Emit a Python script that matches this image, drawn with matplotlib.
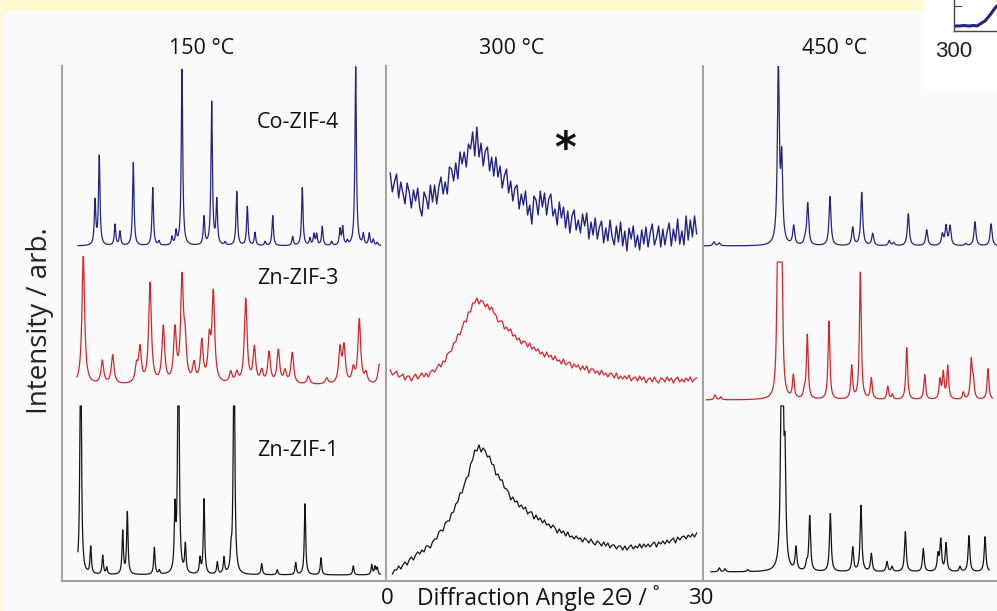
import numpy as np
import matplotlib
matplotlib.use("Agg")
import matplotlib.pyplot as plt
from matplotlib.patches import Rectangle

# ---------------- data ----------------
# 150 C panel: peak positions (2theta, deg) and peak heights (arb.)
co150_pos = [3.06, 3.45, 4.91, 5.37, 6.60, 8.40, 8.98, 10.19, 10.56, 11.11, 13.15, 13.86, 14.33,
             15.09, 16.18, 17.16, 17.87, 18.80, 19.51, 21.36, 22.25, 22.96, 23.33, 23.58, 24.10,
             24.97, 25.74, 25.99, 26.42, 27.19, 27.90, 28.45, 28.82, 29.19]
co150_hts = [44, 89, 21, 14, 83, 58, 4, 8, 13, 176, 28, 143, 44,
             3, 54, 39, 13, 4, 30, 9, 58, 7, 11, 11, 19,
             4, 16, 18, 4, 179, 11, 12, 6, 3]
zn3_150_pos = [1.97, 3.73, 4.69, 6.90, 7.22, 8.15, 9.38, 10.46, 11.11, 11.39, 12.22, 12.94, 13.64,
               14.01, 15.62, 16.18, 17.01, 17.81, 18.49, 19.17, 20.03, 20.65, 21.32, 22.81, 24.51,
               25.74, 26.11, 26.97, 27.53, 28.15, 29.38]
zn3_150_hts = [128, 23, 29, 16, 34, 100, 56, 52, 100, 36, 18, 41, 40,
               88, 11, 10, 84, 35, 12, 31, 33, 12, 31, 8, 6,
               34, 36, 14, 64, 10, 20]
zn1_150_pos = [1.73, 2.66, 3.77, 4.14, 5.62, 6.05, 8.55, 9.01, 10.46, 10.78, 11.42, 12.78,
               13.15, 14.38, 15.00, 15.65, 15.93, 18.49, 19.93, 21.64, 22.50, 23.98, 26.97, 28.68,
               28.98, 29.19]
zn1_150_hts = [280, 27, 19, 7, 43, 62, 27, 4, 60, 300, 28, 15,
               75, 12, 16, 17, 280, 11, 5, 12, 71, 17, 9, 10,
               8, 7]

# 300 C panel: amorphous patterns sampled every 0.2 deg 2theta
co300_start, co300_step = 0.4, 0.2
co300_int = [407, 388, 398, 406, 382, 398, 387, 376, 397, 388,
             372, 390, 379, 392, 372, 364, 388, 382, 371, 395,
             378, 395, 376, 393, 403, 386, 398, 386, 413, 411,
             399, 417, 401, 428, 416, 428, 413, 436, 431, 448,
             424, 453, 423, 437, 414, 429, 433, 409, 423, 404,
             423, 403, 414, 392, 404, 411, 387, 399, 379, 392,
             395, 371, 386, 375, 389, 365, 375, 356, 384, 380,
             365, 389, 373, 387, 365, 381, 386, 364, 371, 355,
             378, 362, 373, 352, 369, 347, 364, 370, 350, 360,
             347, 366, 354, 367, 341, 358, 345, 362, 341, 353,
             359, 337, 352, 339, 360, 343, 335, 354, 338, 358,
             334, 349, 329, 352, 341, 354, 333, 345, 330, 350,
             336, 353, 333, 347, 356, 335, 342, 354, 333, 351,
             335, 348, 357, 334, 351, 339, 361, 336, 349, 335,
             364, 340, 360, 343, 364, 346]
zn3_300_start, zn3_300_step = 0.4, 0.2
zn3_300_int = [210, 205, 207, 209, 203, 204, 206, 200, 204, 204,
               199, 203, 206, 201, 204, 207, 203, 207, 203, 208,
               210, 208, 212, 216, 213, 219, 218, 226, 228, 229,
               237, 238, 246, 245, 252, 259, 258, 268, 268, 277,
               277, 282, 276, 280, 278, 273, 276, 270, 273, 267,
               265, 258, 259, 259, 251, 253, 249, 251, 244, 245,
               240, 242, 236, 239, 238, 233, 237, 231, 233, 229,
               231, 226, 228, 223, 228, 223, 225, 220, 224, 219,
               220, 216, 221, 215, 217, 218, 212, 216, 213, 215,
               210, 214, 210, 214, 207, 211, 211, 207, 209, 205,
               210, 205, 207, 203, 207, 206, 202, 207, 201, 204,
               201, 204, 201, 205, 199, 202, 203, 199, 204, 200,
               203, 197, 201, 202, 198, 203, 199, 197, 202, 201,
               198, 203, 199, 202, 197, 201, 203, 198, 201, 198,
               202, 199, 203, 198, 201, 202]
zn1_300_start, zn1_300_step = 0.6, 0.2
zn1_300_int = [6, 10, 10, 14, 11, 15, 18, 15, 20, 23,
               20, 25, 28, 26, 30, 28, 34, 34, 32, 38,
               41, 41, 48, 50, 49, 57, 59, 59, 67, 68,
               76, 78, 87, 87, 95, 102, 104, 116, 120, 130,
               129, 135, 128, 132, 129, 123, 124, 116, 115, 105,
               106, 100, 100, 92, 91, 88, 80, 83, 78, 79,
               73, 75, 71, 73, 66, 68, 68, 61, 65, 60,
               62, 57, 60, 55, 56, 52, 55, 52, 47, 51,
               47, 49, 44, 48, 43, 44, 41, 44, 41, 42,
               38, 42, 40, 37, 41, 37, 35, 39, 37, 34,
               38, 34, 37, 32, 35, 35, 31, 34, 34, 30,
               34, 30, 33, 35, 31, 34, 32, 36, 32, 36,
               33, 36, 33, 36, 38, 33, 38, 36, 39, 36,
               40, 37, 40, 42, 37, 43, 40, 43, 44, 41,
               45, 43, 46, 43, 47]

# 450 C panel
co450_pos = [1.04, 1.54, 7.13, 7.45, 8.58, 9.65, 9.91, 12.02, 14.17, 15.02, 16.06, 17.63, 18.05,
             19.43, 21.17, 22.65, 23.00, 23.38, 24.86, 25.74, 27.26]
co450_hts = [4, 3, 176, 80, 19, 5, 42, 49, 18, 53, 12, 5, 3,
             32, 16, 11, 19, 19, 2, 24, 22]
zn3_450_pos = [1.14, 1.68, 7.07, 7.30, 7.48, 8.55, 9.59, 9.87, 11.92, 14.07, 14.89, 15.93, 17.48,
               17.92, 19.28, 20.98, 22.43, 22.74, 23.16, 24.63, 25.39, 25.58, 26.97]
zn3_450_hts = [5, 3, 155, 150, 100, 23, 7, 64, 78, 33, 127, 21, 13,
               5, 52, 25, 19, 26, 33, 7, 38, 18, 31]
zn1_450_pos = [1.54, 2.08, 4.23, 7.42, 7.55, 7.76, 8.80, 9.81, 10.10, 12.05, 14.17, 14.95, 15.93,
               17.41, 17.89, 19.15, 20.85, 22.24, 22.50, 23.00, 24.32, 25.17, 26.69]
zn1_450_hts = [4, 3, 2, 190, 170, 95, 23, 7, 55, 58, 24, 66, 18,
               10, 5, 40, 23, 16, 31, 28, 5, 36, 35]

# baselines, clip levels, ranges (2theta) and widths for crystalline traces
crystal = {
    "co150": dict(pos=co150_pos, hts=co150_hts, base=334, clip=None, rng=(1.48, 29.5), fwhm=0.16),
    "zn3_150": dict(pos=zn3_150_pos, hts=zn3_150_hts, base=195, clip=None, rng=(1.39, 29.4), fwhm=0.30),
    "zn1_150": dict(pos=zn1_150_pos, hts=zn1_150_hts, base=5, clip=174, rng=(1.48, 29.5), fwhm=0.15),
    "co450": dict(pos=co450_pos, hts=co450_hts, base=334, clip=None, rng=(0.1, 27.9), fwhm=0.22),
    "zn3_450": dict(pos=zn3_450_pos, hts=zn3_450_hts, base=180, clip=318, rng=(0.3, 27.4), fwhm=0.20),
    "zn1_450": dict(pos=zn1_450_pos, hts=zn1_450_hts, base=8, clip=174, rng=(0.75, 27.1), fwhm=0.19),
}

sample_labels = ["Co-ZIF-4", "Zn-ZIF-3", "Zn-ZIF-1"]
temp_labels = ["150 °C", "300 °C", "450 °C"]

inset_x = [300, 305, 310, 315, 320, 323, 326, 331, 336, 341, 344]
inset_y = [5, 5, 5.5, 5, 5.5, 5, 7, 10, 16, 23, 26]

BLUE = "#232383"
RED = "#d2262b"
BLACK = "#151515"
FRAME = "#a3a3a3"
BG = "#fafafa"

FONT = ["Open Sans", "DejaVu Sans"]


def profile(spec):
    x = np.arange(spec["rng"][0], spec["rng"][1], 0.01)
    y = np.full_like(x, float(spec["base"]))
    hw = spec["fwhm"] / 2.0
    for p, h in zip(spec["pos"], spec["hts"]):
        y += h / (1.0 + ((x - p) / hw) ** 2)
    if spec["clip"] is not None:
        y = np.minimum(y, spec["clip"])
    return x, y


W, H = 997, 611
fig = plt.figure(figsize=(W / 100, H / 100), dpi=100, facecolor=BG)


def fx(px):
    return px / W


def fy(py):
    return 1 - py / H


# background decorations (drawn beneath the axes)
for rect, col in (((0, fy(11), fx(924), 11 / H), "#fffbd0"),
                  ((0, 0, fx(2), fy(11)), "#fffbd0"),
                  ((fx(924), fy(90), fx(W - 924), 90 / H), "white")):
    fig.patches.append(Rectangle(rect[:2], rect[2], rect[3], transform=fig.transFigure,
                                 facecolor=col, edgecolor="none", zorder=-5))

panel_left = [62, 386, 703]
panel_w = 317
top_px, bot_px = 66, 581
axes = []
for i, lp in enumerate(panel_left):
    wpx = 324 if i == 0 else panel_w
    ax = fig.add_axes([fx(lp), fy(bot_px), wpx / W, (bot_px - top_px) / H])
    ax.set_facecolor("none")
    ax.set_xlim(0, 30)
    ax.set_ylim(-1, bot_px - top_px - 1)
    for s in ("top", "right"):
        ax.spines[s].set_visible(False)
    for s in ("left", "bottom"):
        ax.spines[s].set_color(FRAME)
        ax.spines[s].set_linewidth(1.5)
    ax.set_xticks([])
    ax.set_yticks([])
    axes.append(ax)

ax1, ax2, ax3 = axes

# 150 C
for key, col in (("co150", BLUE), ("zn3_150", RED), ("zn1_150", BLACK)):
    x, y = profile(crystal[key])
    ax1.plot(x, y, color=col, lw=0.9)

# 300 C
for start, step, vals, col, lw in ((co300_start, co300_step, co300_int, BLUE, 1.0),
                                   (zn3_300_start, zn3_300_step, zn3_300_int, RED, 0.9),
                                   (zn1_300_start, zn1_300_step, zn1_300_int, BLACK, 0.9)):
    x = start + step * np.arange(len(vals))
    ax2.plot(x, vals, color=col, lw=lw)

# 450 C
for key, col in (("co450", BLUE), ("zn3_450", RED), ("zn1_450", BLACK)):
    x, y = profile(crystal[key])
    ax3.plot(x, y, color=col, lw=0.9)

# sample labels in the 150 C panel
for lab, ypx in zip(sample_labels, (123, 279, 451)):
    fig.text(fx(298), fy(ypx), lab, ha="center", va="center", fontsize=15.5,
             family=FONT, color="#111111")

# temperature labels
for lab, xpx in zip(temp_labels, (202, 512, 835)):
    fig.text(fx(xpx), fy(48), lab, ha="center", va="center", fontsize=15.5,
             family=FONT, color="#111111")

# asterisk
fig.text(fx(565), fy(150), "*", ha="center", va="center", fontsize=30,
         family=["DejaVu Sans"], fontweight="bold", color="#111111")

# axis titles
fig.text(fx(40), fy(321), "Intensity / arb.", rotation=90, ha="center", va="center",
         fontsize=20, family=FONT, color="#222222")
fig.text(fx(538), fy(598), "Diffraction Angle 2Θ / ˚", ha="center", va="center",
         fontsize=16.5, family=FONT, color="#111111")
fig.text(fx(387), fy(598), "0", ha="center", va="center", fontsize=16, family=FONT, color="#111111")
fig.text(fx(701), fy(598), "30", ha="center", va="center", fontsize=16, family=FONT, color="#111111")

# partial inset at top right
axi = fig.add_axes([fx(954), fy(31), 60 / W, 31 / H])
axi.set_facecolor("white")
axi.plot(inset_x, inset_y, color=BLUE, lw=2.2)
axi.set_xlim(300, 360)
axi.set_ylim(0, 31)
for s in ("top", "right"):
    axi.spines[s].set_visible(False)
for s in ("left", "bottom"):
    axi.spines[s].set_color("#444444")
    axi.spines[s].set_linewidth(1.0)
axi.set_yticks([25])
axi.set_yticklabels([])
axi.tick_params(axis="y", direction="in", length=6, color="#444444")
axi.set_xticks([300])
axi.set_xticklabels(["300"], fontsize=16, family=["Liberation Sans", "DejaVu Sans"], color="#222222")
axi.tick_params(axis="x", length=0, pad=7)

fig.savefig("out.png", dpi=100, facecolor=BG)
